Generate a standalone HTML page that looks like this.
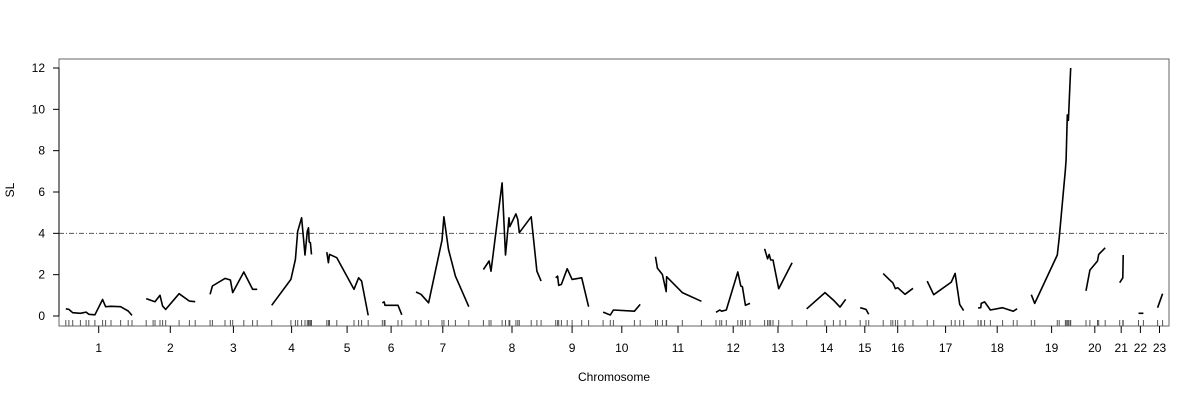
<!DOCTYPE html>
<html><head><meta charset="utf-8"><style>
body{margin:0;background:#fff}
svg{display:block;font-family:"Liberation Sans",sans-serif}
</style></head><body>
<svg id="chart" width="1200" height="400"></svg>
<script>
const chrNames=["1","2","3","4","5","6","7","8","9","10","11","12","13","14","15","16","17","18","19","20","21","22","23"];
const chrCenters=[39.7,111.3,174.4,232.6,288.1,332.1,383.8,453,513.1,562.8,619,674.2,719,767.6,805.8,838.7,886.6,938.2,992.6,1035.8,1062.2,1081.4,1100.5];
const yTicks=[0,2,4,6,8,10,12];
const threshold=4;
const chrPos=[
[6.8,9.9,13.7,21.4,27.1,29.8,35.9,43.6,46.6,52,61.6,69.2,73],
[87.2,94.1,96,101,103.6,106.7,120.1,130.4,136.2],
[151.1,153.4,166,171.4,173.7,184.8,193.6,198.2],
[212.7,231.9,236.4,238.7,242.6,246,248.3,249.5,250.2,251.4,252.5],
[267.8,269.4,270.5,277.8,295,299.6,302.6,309.2],
[323.3,325.2,326,339,342.8],
[357,362,369.6,383,384.9,389.5,396.4,409.8],
[424.4,430.1,432,443.1,446.5,450,450.8,456.9,458.8,460.3,472.2,477.9,482.1],
[496.7,498.6,499.7,502.4,508.2,513.1,522.7,529.6],
[544.1,551.3,554.4,575.4,581.2],
[596.5,598.4,603.4,607.2,607.6,623.3,642.4],
[657,660.8,662.7,667.3,678.8,681.8,683.4,686.4,691],
[705.6,708.6,710.2,711.7,714,719.7,733.1],
[747.7,766,774.4,781,786.7],
[801.2,807,809.7],
[824.2,831.9,833.8,836.4,838.7,846,854],
[868.2,874.7,892.3,896.1,900.7,904.6],
[919.1,921.8,922.2,925.6,931.4,943.6,954.3,958.1],
[972.3,975.7,998.3,1000.2,1006.4,1007.1,1008.3,1009.4,1011,1011.7],
[1027,1030.9,1038.5,1039.7,1046.2],
[1060.7,1063.8,1064.2],
[1079.5,1084.4],
[1098.6,1103.6]];
const chrSL=[
[0.35,0.32,0.16,0.13,0.19,0.08,0.06,0.8,0.45,0.47,0.45,0.24,0.03],
[0.84,0.72,0.69,1.0,0.48,0.32,1.08,0.72,0.69],
[1.05,1.45,1.82,1.74,1.13,2.13,1.29,1.29],
[0.52,1.77,2.74,4.1,4.75,2.95,4.1,4.27,3.58,3.54,2.98],
[3.09,2.58,2.98,2.82,1.29,1.85,1.69,0.03],
[0.64,0.68,0.52,0.52,0.06],
[1.16,1.05,0.64,3.67,4.8,3.22,1.93,0.45],
[2.25,2.66,2.17,6.44,2.95,4.75,4.32,4.94,4.67,4.03,4.8,2.17,1.69],
[1.85,1.93,1.48,1.53,2.29,1.77,1.85,0.45],
[0.19,0.05,0.29,0.23,0.56],
[2.87,2.32,2.01,1.18,1.9,1.13,0.71],
[0.18,0.29,0.23,0.29,2.13,1.45,1.42,0.52,0.61],
[3.25,2.77,2.98,2.71,2.71,1.32,2.58],
[0.35,1.13,0.77,0.43,0.81],
[0.4,0.32,0.08],
[2.05,1.69,1.61,1.32,1.37,1.05,1.34],
[1.69,1.03,1.64,2.06,0.56,0.26],
[0.39,0.4,0.61,0.68,0.29,0.4,0.23,0.35],
[1.03,0.61,2.95,3.78,7.09,7.57,9.73,9.47,11.27,12.0],
[1.22,2.22,2.66,2.98,3.3],
[1.61,1.85,2.95],
[0.13,0.13],
[0.4,1.08]];
const L=59,R=1169,T=59,B=326;
const xs=v=>L+v*(R-L)/1110;
const ys=v=>316-v*(248/12);
const svg=document.getElementById('chart');
const NS='http://www.w3.org/2000/svg';
function mk(tag,attrs,parent){const e=document.createElementNS(NS,tag);for(const k in attrs)e.setAttribute(k,attrs[k]);(parent||svg).appendChild(e);return e;}
const frame=mk('rect',{x:L,y:T,width:R-L,height:B-T,fill:'none',stroke:'#666','stroke-width':1});


const th=mk('line',{x1:L,x2:R,y1:ys(threshold),y2:ys(threshold),stroke:'#555','stroke-width':1,'stroke-dasharray':'5,2,1,2'});


const yax=mk('g',{});


mk('line',{x1:L,x2:L,y1:ys(0),y2:ys(12),stroke:'#000'},yax);
yTicks.forEach(v=>{
  mk('line',{x1:L-6,x2:L,y1:ys(v),y2:ys(v),stroke:'#000'},yax);
  const t=mk('text',{x:L-14,y:ys(v)+4,'font-size':12,'text-anchor':'end'},yax);
  t.textContent=v;
  
  
});
const yt=mk('text',{x:14,y:190,'font-size':12,'text-anchor':'middle',transform:'rotate(-90 14 190)'});
yt.textContent='SL';


const xax=mk('g',{});


chrCenters.forEach((c,i)=>{
  mk('line',{x1:xs(c),x2:xs(c),y1:B,y2:B+7,stroke:'#000'},xax);
  const t=mk('text',{x:xs(c),y:352,'font-size':12,'text-anchor':'middle'},xax);
  t.textContent=chrNames[i];
  
  
});
const xt=mk('text',{x:614,y:381,'font-size':12,'text-anchor':'middle'});
xt.textContent='Chromosome';


chrPos.forEach((pos,i)=>{
  const pts=pos.map((p,j)=>xs(p).toFixed(1)+','+ys(chrSL[i][j]).toFixed(1)).join(' ');
  const pl=mk('polyline',{points:pts,fill:'none',stroke:'#000','stroke-width':1.6,'stroke-linejoin':'round'});
  
  
  pos.forEach(p=>{
    const r=mk('line',{x1:xs(p),x2:xs(p),y1:320,y2:326,stroke:'#555','stroke-width':1});
    
    
  });
});
</script>
</body></html>
